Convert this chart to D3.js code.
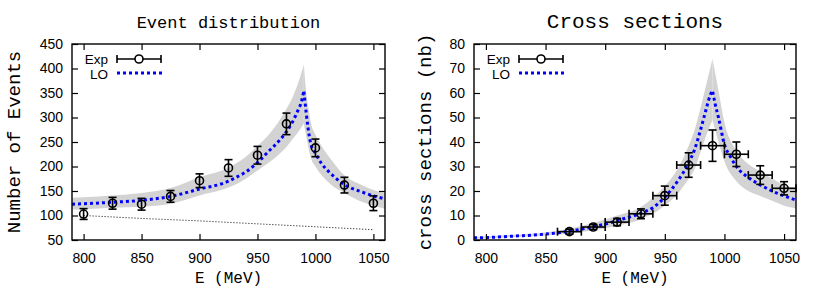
<!DOCTYPE html>
<html><head><meta charset="utf-8">
<script src="https://cdn.jsdelivr.net/npm/d3@7"></script>
<style>body{margin:0;background:#fff}svg{display:block}</style>
</head><body>
<svg id="chart" width="822" height="288"></svg>
<script>
// ---------- Left panel: event distribution ----------
const evtEnergies = [800, 825, 850, 875, 900, 925, 950, 975, 1000, 1025, 1050];
const evtCounts   = [103, 125, 123, 139, 171, 197, 223, 287, 238, 162, 125];
const evtErrors   = [11, 12, 12, 12, 14, 17, 18, 22, 18, 16, 15];

const evtLOEnergies = [790, 800, 825, 850, 875, 900, 925, 930, 940, 950, 960, 970, 975, 980, 985, 988, 990, 992, 993.5, 996, 1000, 1005, 1013, 1025, 1040, 1050, 1060];
const evtLO         = [123, 124, 127, 131, 139, 154, 170, 176, 189, 208, 232, 256, 271, 290, 315, 333, 355, 310, 281, 246, 227, 207, 186, 163, 148, 140, 134];

const evtBandEnergies = [790, 800, 825, 850, 875, 900, 925, 940, 950, 960, 970, 975, 980, 985, 990, 992, 994, 996, 1000, 1005, 1013, 1025, 1040, 1050, 1060];
const evtBandLow      = [112, 113, 116, 118, 124, 141, 157, 175, 192, 208, 228, 240, 255, 270, 288, 262, 238, 218, 200, 183, 164, 146, 128, 120, 114];
const evtBandHigh     = [136, 137, 141, 146, 156, 178, 198, 220, 242, 266, 298, 318, 340, 370, 408, 352, 318, 290, 265, 243, 216, 182, 162, 152, 146];

const bgEnergies = [800, 850, 900, 950, 1000, 1050];
const bgCounts   = [100, 94, 89, 83, 77, 71];

// ---------- Right panel: cross sections ----------
const xsEnergies = [870, 890, 910, 930, 950, 970, 990, 1010, 1030, 1050];
const xsValues   = [3.4, 5.3, 7.3, 10.7, 18.1, 30.6, 38.5, 35.0, 26.5, 21.1];
const xsErrY     = [1.0, 1.0, 1.5, 2.0, 3.9, 5.0, 6.4, 5.0, 3.8, 2.7];
const xsErrX     = [10, 10, 10, 10, 10, 10, 10, 10, 10, 10];

const xsLOEnergies = [790, 800, 820, 850, 870, 890, 900, 910, 930, 940, 950, 960, 970, 975, 980, 985, 988, 990, 992, 995, 1000, 1005, 1010, 1020, 1030, 1040, 1050, 1060];
const xsLO         = [0.9, 1.0, 1.5, 2.4, 3.6, 5.4, 6.5, 7.9, 11.0, 13.2, 17.5, 23.5, 31.5, 37, 45, 54, 59, 61, 56, 50, 39, 34, 30, 25.5, 22.5, 20, 18, 16.3];

const xsBandEnergies = [790, 800, 820, 850, 870, 890, 910, 930, 950, 960, 970, 975, 980, 985, 990, 995, 1000, 1010, 1020, 1030, 1040, 1050, 1060];
const xsBandLow      = [0.6, 0.7, 1.1, 1.8, 2.7, 4.0, 5.8, 8.5, 14, 18.5, 25, 29, 36, 43, 49, 40, 32, 24, 20, 18, 16, 14, 13];
const xsBandHigh     = [1.3, 1.4, 2.0, 3.1, 4.6, 6.9, 10, 13.5, 22, 28.5, 38.5, 45, 54, 64, 74, 61, 48, 36.5, 31, 28, 25, 22.5, 21];

const xTicks = [800, 850, 900, 950, 1000, 1050];
const evtYTicks = [50, 100, 150, 200, 250, 300, 350, 400, 450];
const xsYTicks = [0, 10, 20, 30, 40, 50, 60, 70, 80];

const svg = d3.select("#chart");
svg.append("rect").attr("width", 822).attr("height", 288).attr("fill", "#fff");

const MONO = "'Liberation Mono', 'DejaVu Sans Mono', monospace";
const SANS = "'Liberation Sans', Arial, sans-serif";
const BLUE = "#0000ff";
const GRAY = "#d3d3d3";

function splitAt(xs, ys, peak) {
  const i = xs.indexOf(peak);
  return [xs.slice(0, i + 1).map((x, k) => [x, ys[k]]), xs.slice(i).map((x, k) => [x, ys[i + k]])];
}

function panel(opt) {
  const x = d3.scaleLinear().domain([790, 1060]).range([opt.left, opt.right]);
  const y = d3.scaleLinear().domain(opt.yDomain).range([240, 44]);
  const g = svg.append("g");
  const clipId = "clip" + opt.id;
  svg.append("clipPath").attr("id", clipId).append("rect")
    .attr("x", opt.left).attr("y", 44).attr("width", opt.right - opt.left).attr("height", 196);
  const plot = g.append("g").attr("clip-path", `url(#${clipId})`);

  // band (two branches to keep the cusp)
  const bandPts = opt.bandE.map((e, i) => ({ e, lo: opt.bandLow[i], hi: opt.bandHigh[i] }));
  const pi = opt.bandE.indexOf(990);
  const area = d3.area().x(d => x(d.e)).y0(d => y(d.lo)).y1(d => y(d.hi)).curve(d3.curveMonotoneX);
  plot.append("path").attr("d", area(bandPts.slice(0, pi + 1))).attr("fill", GRAY);
  plot.append("path").attr("d", area(bandPts.slice(pi))).attr("fill", GRAY);

  // background dotted
  if (opt.bgE) {
    const bl = d3.line().x(d => x(d[0])).y(d => y(d[1]));
    plot.append("path").attr("d", bl(opt.bgE.map((e, i) => [e, opt.bgV[i]])))
      .attr("fill", "none").attr("stroke", "#000").attr("stroke-width", 1).attr("stroke-dasharray", "1,2");
  }

  // LO curve
  const [b1, b2] = splitAt(opt.loE, opt.loV, 990);
  const line = d3.line().x(d => x(d[0])).y(d => y(d[1])).curve(d3.curveMonotoneX);
  plot.append("path").attr("d", line(b1) + line(b2).replace(/^M/, "L"))
    .attr("fill", "none").attr("stroke", BLUE).attr("stroke-width", 3).attr("stroke-dasharray", "3,3");

  // data points
  const pts = g.append("g").attr("stroke", "#000").attr("stroke-width", 1.6).attr("fill", "none");
  opt.dataE.forEach((e, i) => {
    const cx = x(e), cy = y(opt.dataV[i]);
    const yt = y(opt.dataV[i] + opt.errY[i]), yb = y(opt.dataV[i] - opt.errY[i]);
    pts.append("line").attr("x1", cx).attr("x2", cx).attr("y1", yt).attr("y2", yb);
    pts.append("line").attr("x1", cx - 4).attr("x2", cx + 4).attr("y1", yt).attr("y2", yt);
    pts.append("line").attr("x1", cx - 4).attr("x2", cx + 4).attr("y1", yb).attr("y2", yb);
    if (opt.errX) {
      const xl = x(e - opt.errX[i]), xr = x(e + opt.errX[i]);
      pts.append("line").attr("x1", xl).attr("x2", xr).attr("y1", cy).attr("y2", cy);
      pts.append("line").attr("x1", xl).attr("x2", xl).attr("y1", cy - 4).attr("y2", cy + 4);
      pts.append("line").attr("x1", xr).attr("x2", xr).attr("y1", cy - 4).attr("y2", cy + 4);
    }
    pts.append("circle").attr("cx", cx).attr("cy", cy).attr("r", 4);
  });

  // axes (inward ticks, mirrored)
  const styleAxis = (sel, labels) => {
    sel.select(".domain").remove();
    sel.selectAll(".tick line").attr("stroke", "#000").attr("stroke-width", 1.2);
    sel.selectAll(".tick text").attr("font-family", SANS).attr("font-size", 14).attr("fill", "#000");
    if (!labels) sel.selectAll(".tick text").remove();
  };
  g.append("g").attr("transform", "translate(0,240)")
    .call(d3.axisBottom(x).tickValues(xTicks).tickSize(-6).tickPadding(13).tickFormat(d3.format("d")))
    .call(s => styleAxis(s, true));
  g.append("g").attr("transform", "translate(0,44)")
    .call(d3.axisTop(x).tickValues(xTicks).tickSize(-6))
    .call(s => styleAxis(s, false));
  g.append("g").attr("transform", `translate(${opt.left},0)`)
    .call(d3.axisLeft(y).tickValues(opt.yTicks).tickSize(-6).tickPadding(9).tickFormat(d3.format("d")))
    .call(s => styleAxis(s, true));
  g.append("g").attr("transform", `translate(${opt.right},0)`)
    .call(d3.axisRight(y).tickValues(opt.yTicks).tickSize(-6))
    .call(s => styleAxis(s, false));

  g.append("rect").attr("x", opt.left).attr("y", 44).attr("width", opt.right - opt.left).attr("height", 196)
    .attr("fill", "none").attr("stroke", "#000").attr("stroke-width", 1.4);

  // titles / labels
  const cx = (opt.left + opt.right) / 2;
  g.append("text").attr("x", cx).attr("y", 28).attr("text-anchor", "middle")
    .attr("font-family", MONO).attr("font-size", opt.titleSize).text(opt.title);
  g.append("text").attr("x", cx).attr("y", 283).attr("text-anchor", "middle")
    .attr("font-family", MONO).attr("font-size", 16).text("E (MeV)");
  g.append("text").attr("transform", `translate(${opt.ylabX},142) rotate(-90)`).attr("text-anchor", "middle")
    .attr("font-family", MONO).attr("font-size", opt.ylabSize).text(opt.ylabel);

  // legend
  const lx = opt.left + 36;
  const lg = g.append("g");
  lg.append("text").attr("x", lx).attr("y", 63.5).attr("text-anchor", "end")
    .attr("font-family", SANS).attr("font-size", 13.5).text("Exp");
  lg.append("text").attr("x", lx).attr("y", 78.5).attr("text-anchor", "end")
    .attr("font-family", SANS).attr("font-size", 13.5).text("LO");
  const s0 = lx + 9, s1 = lx + 53, ly = 59;
  const le = lg.append("g").attr("stroke", "#000").attr("stroke-width", 1.6).attr("fill", "none");
  le.append("line").attr("x1", s0).attr("x2", s1).attr("y1", ly).attr("y2", ly);
  le.append("line").attr("x1", s0).attr("x2", s0).attr("y1", ly - 4).attr("y2", ly + 4);
  le.append("line").attr("x1", s1).attr("x2", s1).attr("y1", ly - 4).attr("y2", ly + 4);
  le.append("circle").attr("cx", (s0 + s1) / 2).attr("cy", ly).attr("r", 4).attr("fill", "#fff");
  lg.append("line").attr("x1", s0).attr("x2", s1 + 1).attr("y1", 73).attr("y2", 73)
    .attr("stroke", BLUE).attr("stroke-width", 3).attr("stroke-dasharray", "3,3");
}

panel({
  id: "L", left: 72, right: 385, yDomain: [50, 450], yTicks: evtYTicks,
  bandE: evtBandEnergies, bandLow: evtBandLow, bandHigh: evtBandHigh,
  loE: evtLOEnergies, loV: evtLO, bgE: bgEnergies, bgV: bgCounts,
  dataE: evtEnergies, dataV: evtCounts, errY: evtErrors, errX: null,
  title: "Event distribution", titleSize: 17, ylabel: "Number of Events", ylabX: 20, ylabSize: 19
});
panel({
  id: "R", left: 474, right: 796, yDomain: [0, 80], yTicks: xsYTicks,
  bandE: xsBandEnergies, bandLow: xsBandLow, bandHigh: xsBandHigh,
  loE: xsLOEnergies, loV: xsLO, bgE: null,
  dataE: xsEnergies, dataV: xsValues, errY: xsErrY, errX: xsErrX,
  title: "Cross sections", titleSize: 21, ylabel: "cross sections (nb)", ylabX: 431, ylabSize: 19
});
</script>
</body></html>
